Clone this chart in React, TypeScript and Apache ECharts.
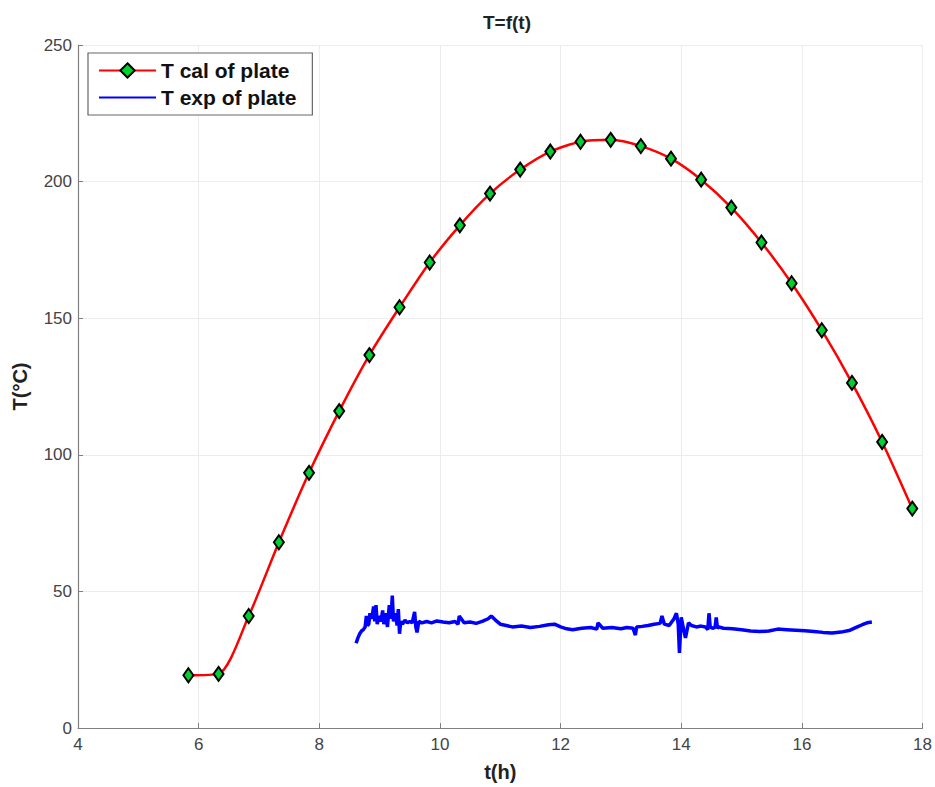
import React, { useEffect, useRef } from "react";
import * as echarts from "echarts";

const calT = [5.83, 6.33, 6.83, 7.33, 7.83, 8.33, 8.83, 9.33, 9.83, 10.33, 10.83, 11.33, 11.83, 12.33, 12.83, 13.33, 13.83, 14.33, 14.83, 15.33, 15.83, 16.33, 16.83, 17.33, 17.83];
const calV = [19.3, 19.8, 41, 68, 93.4, 116, 136.5, 154, 170.4, 184, 195.6, 204.4, 211, 214.6, 215.3, 213, 208.4, 200.7, 190.5, 177.7, 162.8, 145.6, 126.3, 104.7, 80.3];

const expData: [number, number][] = [
  [8.61, 31], [8.64, 33], [8.67, 34.5], [8.70, 35.5], [8.73, 36], [8.76, 37], [8.78, 41], [8.80, 37.5],
  [8.82, 38], [8.84, 42], [8.87, 40], [8.90, 44.5], [8.92, 39], [8.94, 45], [8.96, 38], [8.99, 41],
  [9.02, 39], [9.05, 43], [9.07, 38], [9.10, 42], [9.13, 37], [9.16, 45], [9.19, 40], [9.21, 48.5],
  [9.23, 39], [9.26, 42], [9.29, 37.5], [9.31, 43.5], [9.33, 34.5], [9.35, 39], [9.38, 38], [9.42, 39.5],
  [9.46, 38.5], [9.50, 39], [9.54, 38.5], [9.58, 42.5], [9.60, 37], [9.62, 35], [9.65, 39], [9.70, 38.5],
  [9.78, 39], [9.86, 38.5], [9.95, 39.2], [10.05, 38.8], [10.15, 38.5], [10.25, 39], [10.30, 38], [10.32, 41],
  [10.40, 38.5], [10.50, 38.8], [10.60, 38.3], [10.70, 39], [10.80, 40], [10.85, 41], [10.92, 39.5], [11.00, 38],
  [11.10, 37.5], [11.20, 37], [11.35, 37.3], [11.50, 36.8], [11.65, 37.2], [11.80, 37.8], [11.90, 38], [12.00, 37],
  [12.10, 36.3], [12.20, 36], [12.35, 36.5], [12.50, 36.8], [12.60, 36.2], [12.62, 38.5], [12.70, 36.5], [12.85, 36.8],
  [13.00, 36.3], [13.10, 36.8], [13.20, 36.5], [13.24, 34], [13.26, 37], [13.35, 37.2], [13.45, 37.5], [13.55, 38],
  [13.65, 38.3], [13.68, 41], [13.72, 38], [13.80, 37.5], [13.88, 40], [13.92, 42], [13.95, 38], [13.97, 27.5],
  [14.00, 40.5], [14.04, 36], [14.07, 33], [14.12, 38.5], [14.17, 37.5], [14.25, 37], [14.33, 37.3], [14.40, 37],
  [14.44, 36], [14.46, 42], [14.48, 37], [14.52, 36.5], [14.56, 36.8], [14.58, 40.5], [14.60, 36.5], [14.62, 37],
  [14.70, 36.5], [14.85, 36.3], [15.00, 36], [15.15, 35.5], [15.30, 35.3], [15.45, 35.5], [15.60, 36.2], [15.75, 36],
  [15.90, 35.8], [16.05, 35.6], [16.20, 35.3], [16.35, 35], [16.50, 34.8], [16.65, 35.1], [16.80, 35.8], [16.90, 36.8],
  [17.00, 37.8], [17.08, 38.5], [17.16, 38.8],
];

const xTicks = { min: 4, max: 18, interval: 2 };
const yTicks = { min: 0, max: 250, interval: 50 };

const FONT = "'Liberation Sans', Arial, sans-serif";

export default function App() {
  const ref = useRef<HTMLDivElement>(null);
  useEffect(() => {
    if (!ref.current) return;
    const chart = echarts.init(ref.current, null, { renderer: "svg" });
    const axisCommon = {
      axisLine: { show: true, lineStyle: { color: "#808080", width: 1.2 } },
      axisTick: { show: true, inside: true, length: 5, lineStyle: { color: "#808080" } },
      axisLabel: { color: "#444", fontSize: 17, fontFamily: FONT },
      splitLine: { show: true, lineStyle: { color: "#ececec", width: 1 } },
      nameTextStyle: { color: "#222", fontSize: 20, fontWeight: "bold", fontFamily: FONT },
    };
    chart.setOption({
      animation: false,
      backgroundColor: "#fff",
      title: {
        text: "T=f(t)",
        left: 502,
        textAlign: "center",
        top: 8,
        textStyle: { color: "#222", fontSize: 19, fontWeight: "bold", fontFamily: FONT },
      },
      grid: { left: 78, right: 11, top: 45, bottom: 57, containLabel: false },
      legend: {
        orient: "vertical",
        left: 88,
        top: 53,
        backgroundColor: "#fff",
        borderColor: "#666",
        borderWidth: 1.2,
        padding: [7, 16, 7, 10],
        itemGap: 6,
        itemWidth: 57,
        itemHeight: 18,
        textStyle: { color: "#111", fontSize: 21, fontWeight: "bold", fontFamily: FONT },
        data: [
          { name: "T cal of plate" },
          { name: "T exp of plate", itemStyle: { opacity: 0 } },
        ],
      },
      xAxis: {
        type: "value",
        ...xTicks,
        ...axisCommon,
        axisLabel: { ...axisCommon.axisLabel, margin: 8 },
        name: "t(h)",
        nameLocation: "middle",
        nameGap: 34,
      },
      yAxis: {
        type: "value",
        ...yTicks,
        ...axisCommon,
        axisLabel: { ...axisCommon.axisLabel, margin: 6 },
        name: "T(°C)",
        nameLocation: "middle",
        nameGap: 48,
      },
      series: [
        {
          name: "T cal of plate",
          type: "line",
          data: calT.map((t, i) => [t, calV[i]]),
          smooth: 0.25,
          symbol: "diamond",
          symbolSize: [10, 14],
          showAllSymbol: true,
          lineStyle: { color: "#ff0000", width: 2.5 },
          itemStyle: { color: "#00d030", borderColor: "#000", borderWidth: 2 },
          z: 3,
        },
        {
          name: "T exp of plate",
          type: "line",
          data: expData,
          symbol: "none",
          lineStyle: { color: "#0000ff", width: 3.5 },
          itemStyle: { color: "#0000ff" },
          z: 2,
        },
      ],
    });
    return () => chart.dispose();
  }, []);
  return (
    <div
      ref={ref}
      style={{ position: "fixed", left: 0, top: 0, width: 935, height: 787 }}
    />
  );
}
